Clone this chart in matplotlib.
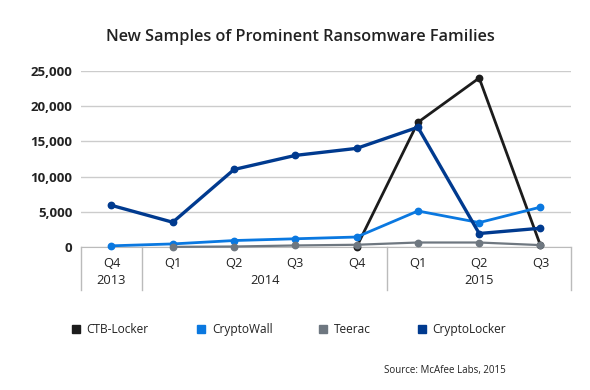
import numpy as np
import matplotlib.pyplot as plt
import matplotlib.transforms as mtransforms

plt.rcParams['font.family'] = ['Open Sans', 'DejaVu Sans']

quarters = ["Q4", "Q1", "Q2", "Q3", "Q4", "Q1", "Q2", "Q3"]
years = ["2013", "2014", "2015"]
year_pos = [0, 2.5, 6]
separators = [-0.5, 0.5, 4.5, 7.5]

ctb_locker = [None, None, None, None, 0, 17700, 24000, 200]
crypto_wall = [150, 420, 900, 1150, 1400, 5100, 3450, 5650]
teerac = [None, 0, 50, 200, 300, 620, 620, 250]
crypto_locker = [5900, 3500, 11000, 13000, 14000, 17000, 1900, 2650]

series = [
    ("CTB-Locker", ctb_locker, "#1c1c1c", 2.0),
    ("CryptoWall", crypto_wall, "#0a78e0", 2.0),
    ("Teerac", teerac, "#6e7780", 1.6),
    ("CryptoLocker", crypto_locker, "#003a8f", 2.4),
]

fig = plt.figure(figsize=(5.9, 3.9), dpi=100)
ax = fig.add_axes([0.137, 0.367, 0.831, 0.451])

x = np.arange(len(quarters))
# same stacking as the original: teerac, cryptowall, cryptolocker, ctb on top
order = [2, 1, 3, 0]
for i in order:
    name, vals, color, lw = series[i]
    v = np.array([np.nan if a is None else a for a in vals], dtype=float)
    ax.plot(x, v, color=color, lw=lw, marker="o", ms=4.6, clip_on=False, zorder=3 + i * 0.1)

ax.set_xlim(-0.5, 7.5)
ax.set_ylim(0, 25000)
ax.set_yticks(np.arange(0, 25001, 5000))
ax.set_yticklabels([f"{v:,}" for v in range(0, 25001, 5000)], fontsize=9.5, fontweight="bold", color="#222222")
ax.yaxis.grid(True, color="#cccccc", lw=1)
ax.set_axisbelow(True)
ax.tick_params(axis="y", length=0, pad=6)
for s in ["top", "right", "left"]:
    ax.spines[s].set_visible(False)
ax.spines["bottom"].set_color("#bbbbbb")

ax.set_xticks(x)
ax.set_xticklabels(quarters, fontsize=9.3, color="#222222")
ax.tick_params(axis="x", length=0, pad=7)

trans = mtransforms.blended_transform_factory(ax.transData, ax.transAxes)
for sx in separators:
    ax.plot([sx, sx], [0, -0.245], transform=trans, color="#bbbbbb", lw=1, clip_on=False)
for yr, yp in zip(years, year_pos):
    ax.text(yp, -0.19, yr, transform=trans, ha="center", va="center", fontsize=9.3, color="#222222")

fig.text(0.509, 0.905, "New Samples of Prominent Ransomware Families", ha="center", va="center",
         fontsize=11.7, fontweight="semibold", color="#222222")

leg_x = [0.122, 0.334, 0.541, 0.708]
for (name, vals, color, lw), lx in zip(series, leg_x):
    fig.patches.append(plt.Rectangle((lx, 0.145), 0.014, 0.021, transform=fig.transFigure,
                                     color=color, figure=fig))
    fig.text(lx + 0.025, 0.155, name, ha="left", va="center", fontsize=8.6, color="#222222")

fig.text(0.857, 0.050, "Source: McAfee Labs, 2015", ha="right", va="center", fontsize=7, color="#222222")

fig.savefig("out.png", dpi=100)
